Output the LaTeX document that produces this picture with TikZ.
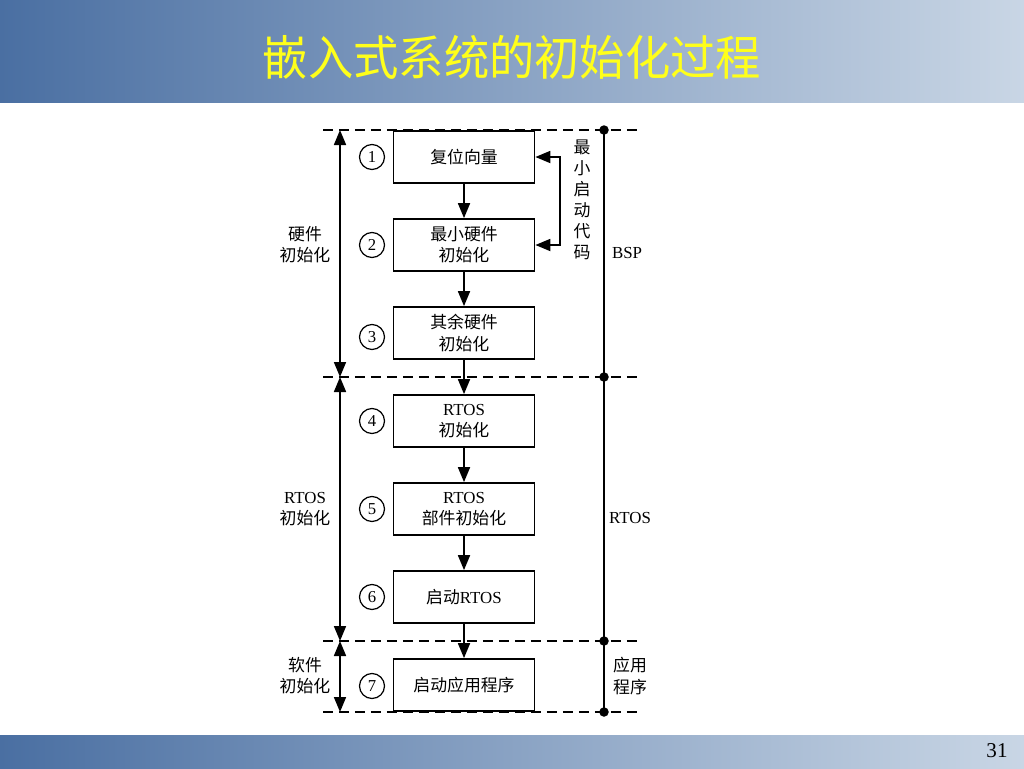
\documentclass[tikz,border=0pt]{standalone}
\usepackage{fontspec}
\setmainfont{Liberation Serif}
\newfontfamily\cjk{Noto Sans CJK SC}
\usetikzlibrary{arrows.meta}
\definecolor{barL}{HTML}{4A6FA2}
\definecolor{barR}{HTML}{C9D6E5}
\definecolor{titleY}{HTML}{FFFF1A}
\tikzset{
  ln/.style={line width=1pt},
  dsh/.style={ln, dash pattern=on 0.2cm off 0.12cm},
  tri/.tip={Triangle[length=0.3cm,width=0.24cm]},
  arr/.style={ln, -tri},
  darr/.style={ln, tri-tri},
  box/.style={draw, ln, minimum width=2.82cm, minimum height=1.04cm, align=center, inner sep=0pt},
  num/.style={draw, circle, line width=0.7pt, minimum size=0.5cm, inner sep=0pt, font=\fontsize{9.5}{11}\selectfont},
  lbl/.style={align=center, inner sep=0pt},
  dot/.style={circle, fill=black, minimum size=0.19cm, inner sep=0pt}
}
\begin{document}
\begin{tikzpicture}[x=0.02cm,y=-0.02cm, font=\fontsize{9.6}{12}\selectfont]
\useasboundingbox (0,0) rectangle (1024,768);
\fill[white] (0,0) rectangle (1024,768);
% bars
\shade[left color=barL, right color=barR] (0,0) rectangle (1024,102);
\shade[left color=barL, right color=barR] (0,735) rectangle (1024,768);
\node[text=titleY, font=\fontsize{25.8}{30}\cjk, yscale=1.05] (title) at (512,57) {嵌入式系统的初始化过程};
\node[font=\fontsize{12}{14}\selectfont] (pg) at (997,751) {31};

% dashed separators
\foreach \n/\y in {d1/130, d2/377, d3/641, d4/712} {
  \coordinate (\n L) at (323,\y);
  \coordinate (\n R) at (640,\y);
  \coordinate (\n A) at (340,\y);
  \coordinate (\n B) at (604,\y);
  \draw[dsh] (\n L) -- (\n R);
}

% boxes
\node[box] (b1) at (464,157) {\cjk 复位向量};
\node[box] (b2) at (464,245) {\cjk 最小硬件\\\cjk 初始化};
\node[box] (b3) at (464,333) {\cjk 其余硬件\\\cjk 初始化};
\node[box] (b4) at (464,421) {RTOS\\\cjk 初始化};
\node[box] (b5) at (464,509) {RTOS\\\cjk 部件初始化};
\node[box] (b6) at (464,597) {{\cjk 启动}RTOS};
\node[box] (b7) at (464,685) {\cjk 启动应用程序};

\foreach \a/\b in {b1/b2, b2/b3, b3/b4, b4/b5, b5/b6, b6/b7}
  \draw[arr] (\a.south) -- (\b.north);

% numbers
\foreach \i/\y in {1/157, 2/245, 3/337, 4/421, 5/509, 6/597, 7/686}
  \node[num] (n\i) at (372,\y) {\i};

% feedback
\coordinate (fb) at (560,0);
\draw[darr] (b1.east) -- (b1.east -| fb) -- (b2.east -| fb) -- (b2.east);
\node[lbl, font=\fontsize{9.6}{11.9}\cjk] (mini) at (582,200) {最\\小\\启\\动\\代\\码};

% left double arrows
\draw[darr] (d1A) -- (d2A);
\draw[darr] (d2A) -- (d3A);
\draw[darr] (d3A) -- (d4A);
\node[lbl] (lh) at (305,245) {\cjk 硬件\\\cjk 初始化};
\node[lbl] (lr) at (305,509) {RTOS\\\cjk 初始化};
\node[lbl] (ls) at (305,676) {\cjk 软件\\\cjk 初始化};

% right line
\draw[ln] (d1B) -- (d4B);
\foreach \n in {d1B, d2B, d3B, d4B} \node[dot] at (\n) {};
\node[lbl] (rb) at (627,253) {BSP};
\node[lbl] (rr) at (630,518) {RTOS};
\node[lbl] (ra) at (630,676) {\cjk 应用\\\cjk 程序};
\end{tikzpicture}
\end{document}
